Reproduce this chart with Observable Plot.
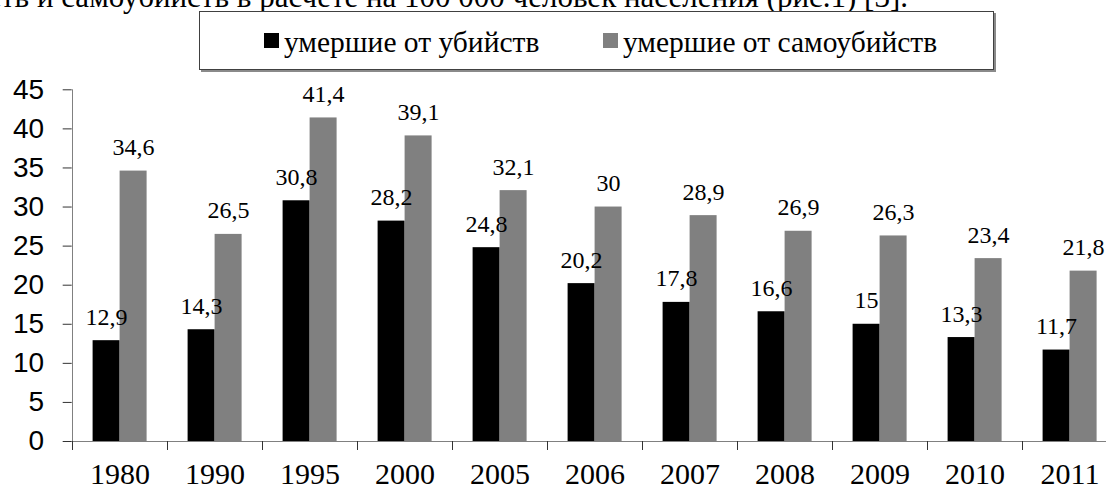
<!DOCTYPE html>
<html>
<head>
<meta charset="utf-8">
<script src="https://cdn.jsdelivr.net/npm/d3@7"></script>
<script src="https://cdn.jsdelivr.net/npm/@observablehq/plot@0.6"></script>
<style>
  html, body { margin: 0; padding: 0; background: #fff; }
  #wrap { position: relative; width: 1106px; height: 490px; overflow: hidden; }
  #topline { position: absolute; right: 198px; top: -19px; white-space: nowrap;
    font: 31px/31px "Liberation Serif", "Times New Roman", serif; color: #000; }
  #legend { position: absolute; left: 199px; top: 11px; width: 793px; height: 57px;
    border: 1px solid #404040; box-shadow: 2px 2px 0 #8a8a8a; background: #fff; }
  .sw { position: absolute; width: 15px; height: 15px; }
  .lt { position: absolute; white-space: nowrap; font: 29.5px/29.5px "Liberation Serif", "Times New Roman", serif; color: #000; }
  #chart { position: absolute; left: 0; top: 0; }
</style>
</head>
<body>
<div id="wrap">
  <div id="chart"></div>
  <div id="topline"></div>
  <div id="legend"></div>
</div>
<script>
const years = ["1980","1990","1995","2000","2005","2006","2007","2008","2009","2010","2011"];
const homicides = [12.9, 14.3, 30.8, 28.2, 24.8, 20.2, 17.8, 16.6, 15, 13.3, 11.7];
const suicides = [34.6, 26.5, 41.4, 39.1, 32.1, 30, 28.9, 26.9, 26.3, 23.4, 21.8];
const seriesNames = ["умершие от убийств", "умершие от самоубийств"];
const seriesColors = ["#000000", "#808080"];
const yTicks = [0, 5, 10, 15, 20, 25, 30, 35, 40, 45];
const topText = "убийств и самоубийств в расчете на 100 000 человек населения (рис.1) [3].";

const hom = years.map((y, i) => ({year: y, value: homicides[i]}));
const sui = years.map((y, i) => ({year: y, value: suicides[i]}));
const fmt = v => String(v).replace(".", ",");

const W = 1106, H = 490;
const mLeft = 71.7, step = 95;
const mRight = W - (mLeft + step * years.length);
const half = step / 2;
const axisGray = "#808080";

const plot = Plot.plot({
  width: W,
  height: H,
  marginLeft: mLeft,
  marginRight: mRight,
  marginTop: 89.3,
  marginBottom: 49,
  style: {background: "transparent", overflow: "visible"},
  x: {domain: years, padding: 0, label: null},
  y: {domain: [0, 45], label: null},
  marks: [
    Plot.barY(hom, {x: "year", y: "value", fill: seriesColors[0], insetLeft: 20.6, insetRight: 47.4}),
    Plot.barY(sui, {x: "year", y: "value", fill: seriesColors[1], insetLeft: 47.6, insetRight: 20.4}),
    Plot.text(hom, {x: "year", y: "value", text: d => fmt(d.value), dx: -13.5, dy: -16, lineAnchor: "bottom",
      fontSize: 24, fontFamily: "Liberation Serif", fill: "#000"}),
    Plot.text(sui, {x: "year", y: "value", text: d => fmt(d.value), dx: 13.5, dy: -16, lineAnchor: "bottom",
      fontSize: 24, fontFamily: "Liberation Serif", fill: "#000"}),
    Plot.ruleY([0], {stroke: axisGray, strokeWidth: 1}),
    Plot.ruleX([years[0]], {y1: 0, y2: 45, dx: -half, stroke: axisGray, strokeWidth: 1}),
    Plot.ruleX(years, {y1: 0, y2: -1.15, dx: -half, stroke: "#333", strokeWidth: 1}),
    Plot.axisY({ticks: yTicks, tickSize: 9, tickPadding: 19, stroke: "#333",
      fontSize: 28, fontFamily: "Liberation Sans", fill: "#000", tickFormat: d => String(d)}),
    Plot.axisX({tickSize: 0, tickPadding: 21, fontSize: 30, fontFamily: "Liberation Serif", fill: "#000"})
  ]
});
document.getElementById("chart").appendChild(plot);
document.getElementById("topline").textContent = topText;

const legend = document.getElementById("legend");
const swLeft = [64, 403];
seriesNames.forEach((name, i) => {
  const sw = document.createElement("div");
  sw.className = "sw";
  sw.style.left = swLeft[i] + "px";
  sw.style.top = "21px";
  sw.style.background = seriesColors[i];
  legend.appendChild(sw);
  const t = document.createElement("div");
  t.className = "lt";
  t.style.left = (swLeft[i] + 20) + "px";
  t.style.top = "16.3px";
  t.textContent = name;
  legend.appendChild(t);
});
</script>
</body>
</html>
